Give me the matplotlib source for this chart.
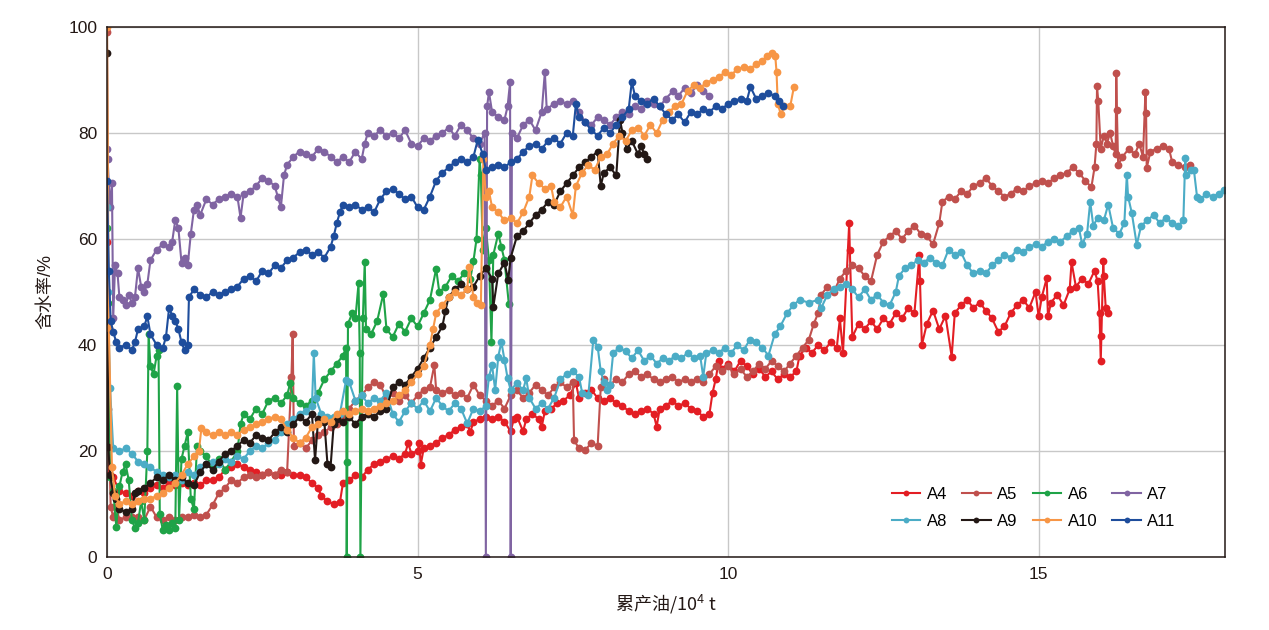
import matplotlib
matplotlib.use("Agg")
import matplotlib.pyplot as plt

plt.rcParams['font.family'] = ['Liberation Sans', 'Noto Sans CJK SC', 'DejaVu Sans']
plt.rcParams['mathtext.fontset'] = 'custom'
plt.rcParams['mathtext.rm'] = 'Noto Sans CJK SC'
plt.rcParams['mathtext.default'] = 'rm'

# 累产油 (10^4 t), 含水率 (%)
a4 = [(0.0, 59.5), (0.03, 15.5), (0.1, 15.0), (0.2, 12.5), (0.3, 12.0), (0.4, 11.5), (0.5, 12.5), (0.6, 12.0), (0.7, 13.0), (0.8, 13.5), (0.9, 13.0), (1.0, 14.0), (1.1, 13.5), (1.2, 14.0), (1.3, 13.5), (1.4, 14.0), (1.5, 13.5), (1.6, 14.5), (1.7, 14.5), (1.8, 15.0), (1.9, 16.5), (2.0, 17.0), (2.1, 17.5), (2.2, 17.0), (2.3, 16.5), (2.4, 16.0), (2.5, 15.5), (2.6, 16.0), (2.7, 15.5), (2.8, 15.5), (2.9, 16.0), (3.0, 15.5), (3.1, 15.5), (3.2, 15.0), (3.3, 14.0), (3.4, 13.0), (3.45, 11.5), (3.55, 10.5), (3.65, 10.0), (3.75, 10.3), (3.8, 14.0), (3.9, 14.5), (4.0, 15.5), (4.1, 15.0), (4.2, 16.5), (4.3, 17.5), (4.4, 18.0), (4.5, 18.5), (4.6, 19.0), (4.7, 18.5), (4.8, 19.5), (4.85, 21.5), (4.9, 19.5), (5.0, 20.0), (5.03, 21.5), (5.05, 17.3), (5.1, 20.5), (5.2, 21.0), (5.3, 21.5), (5.4, 22.5), (5.5, 23.0), (5.6, 24.0), (5.7, 24.5), (5.8, 25.0), (5.85, 23.6), (5.9, 25.5), (6.0, 26.0), (6.1, 26.5), (6.2, 26.0), (6.3, 26.5), (6.4, 25.5), (6.5, 23.7), (6.55, 26.0), (6.6, 26.5), (6.7, 23.7), (6.75, 26.0), (6.85, 27.0), (6.95, 26.0), (7.0, 24.6), (7.05, 27.5), (7.15, 28.0), (7.25, 29.0), (7.35, 29.5), (7.45, 30.5), (7.55, 32.8), (7.6, 30.0), (7.7, 31.0), (7.8, 31.5), (7.9, 30.0), (8.0, 29.5), (8.1, 30.0), (8.2, 29.0), (8.3, 28.5), (8.4, 27.5), (8.5, 27.0), (8.6, 27.5), (8.7, 28.0), (8.8, 27.0), (8.85, 24.6), (8.9, 28.0), (9.0, 28.5), (9.1, 29.5), (9.2, 28.5), (9.3, 29.0), (9.4, 28.0), (9.5, 27.5), (9.6, 26.5), (9.7, 27.0), (9.75, 31.0), (9.8, 33.5), (9.85, 37.0), (9.9, 35.5), (10.0, 36.5), (10.1, 35.0), (10.2, 37.0), (10.3, 36.0), (10.4, 34.5), (10.5, 35.5), (10.6, 34.0), (10.7, 35.0), (10.8, 33.5), (10.9, 34.5), (11.0, 34.0), (11.1, 35.0), (11.15, 38.0), (11.25, 39.5), (11.35, 38.5), (11.45, 40.0), (11.55, 39.0), (11.65, 40.5), (11.75, 39.5), (11.8, 45.0), (11.85, 38.5), (11.95, 63.0), (11.96, 58.0), (12.0, 41.5), (12.1, 44.0), (12.2, 43.0), (12.3, 44.5), (12.4, 43.0), (12.5, 45.0), (12.6, 44.0), (12.7, 46.0), (12.8, 45.0), (12.9, 47.0), (13.0, 46.0), (13.08, 57.0), (13.09, 52.0), (13.12, 40.0), (13.2, 44.0), (13.3, 46.5), (13.4, 43.0), (13.5, 45.5), (13.6, 37.8), (13.65, 46.0), (13.75, 47.5), (13.85, 48.5), (13.95, 47.0), (14.05, 48.0), (14.15, 46.5), (14.25, 45.0), (14.35, 42.5), (14.45, 43.5), (14.55, 46.0), (14.65, 47.5), (14.75, 48.5), (14.85, 47.0), (14.95, 50.0), (15.0, 45.4), (15.05, 49.0), (15.13, 52.6), (15.15, 45.4), (15.2, 48.0), (15.3, 49.5), (15.4, 47.5), (15.5, 50.5), (15.53, 55.6), (15.6, 51.0), (15.7, 52.5), (15.8, 51.5), (15.9, 54.0), (15.95, 52.0), (15.98, 46.0), (16.0, 36.9), (16.01, 41.6), (16.04, 55.8), (16.05, 53.0), (16.08, 47.0), (16.12, 46.0)]

a5 = [(0.0, 99.0), (0.02, 28.0), (0.06, 9.5), (0.1, 7.5), (0.15, 9.5), (0.2, 7.0), (0.3, 7.5), (0.4, 7.5), (0.5, 7.5), (0.6, 7.0), (0.7, 9.5), (0.8, 7.5), (0.9, 7.0), (1.0, 7.5), (1.1, 7.0), (1.2, 7.5), (1.3, 7.5), (1.4, 8.0), (1.5, 7.5), (1.6, 8.0), (1.7, 9.8), (1.8, 12.0), (1.9, 13.0), (2.0, 14.5), (2.1, 14.0), (2.2, 15.0), (2.3, 15.5), (2.4, 15.0), (2.5, 15.5), (2.6, 16.0), (2.7, 15.5), (2.8, 16.5), (2.9, 16.0), (2.97, 34.0), (2.99, 42.0), (3.01, 21.0), (3.1, 21.5), (3.2, 20.5), (3.3, 22.0), (3.4, 23.0), (3.5, 23.5), (3.6, 24.5), (3.7, 25.0), (3.8, 26.5), (3.9, 28.0), (4.0, 29.5), (4.1, 30.5), (4.2, 32.0), (4.3, 33.0), (4.4, 32.5), (4.5, 30.0), (4.6, 31.0), (4.7, 29.5), (4.8, 30.5), (4.9, 29.0), (5.0, 30.5), (5.1, 31.5), (5.2, 32.0), (5.27, 36.2), (5.3, 31.5), (5.4, 31.0), (5.5, 31.5), (5.6, 30.5), (5.7, 31.0), (5.8, 30.0), (5.9, 32.5), (6.0, 30.5), (6.1, 29.5), (6.2, 28.5), (6.3, 29.5), (6.4, 28.0), (6.5, 30.5), (6.6, 31.5), (6.7, 30.0), (6.8, 31.0), (6.9, 32.5), (7.0, 31.5), (7.1, 30.5), (7.2, 32.0), (7.3, 33.0), (7.4, 32.0), (7.5, 33.0), (7.52, 22.0), (7.6, 20.5), (7.7, 20.2), (7.8, 21.5), (7.9, 21.0), (7.95, 32.0), (8.0, 33.5), (8.1, 32.5), (8.2, 33.5), (8.3, 33.0), (8.4, 34.5), (8.5, 35.0), (8.6, 34.0), (8.7, 34.5), (8.8, 33.5), (8.9, 33.0), (9.0, 33.5), (9.1, 34.0), (9.2, 33.0), (9.3, 33.5), (9.4, 33.0), (9.5, 33.5), (9.6, 33.0), (9.7, 34.5), (9.8, 36.0), (9.9, 35.0), (10.0, 36.0), (10.1, 34.5), (10.2, 35.5), (10.3, 34.0), (10.4, 35.0), (10.5, 36.5), (10.6, 35.5), (10.7, 37.0), (10.8, 36.0), (10.9, 35.0), (11.0, 36.5), (11.1, 38.0), (11.2, 39.5), (11.3, 41.0), (11.38, 44.0), (11.45, 46.0), (11.5, 49.5), (11.6, 51.0), (11.7, 50.0), (11.8, 52.5), (11.9, 54.0), (12.0, 55.0), (12.1, 54.5), (12.2, 53.0), (12.3, 52.0), (12.4, 57.0), (12.5, 59.5), (12.6, 60.5), (12.7, 61.5), (12.8, 60.0), (12.9, 61.5), (13.0, 62.5), (13.1, 61.0), (13.2, 60.5), (13.3, 59.0), (13.4, 63.0), (13.45, 67.0), (13.55, 68.0), (13.65, 67.5), (13.75, 69.0), (13.85, 68.5), (13.95, 70.0), (14.05, 70.5), (14.15, 71.5), (14.25, 70.0), (14.35, 69.0), (14.45, 68.0), (14.55, 68.5), (14.65, 69.5), (14.75, 69.0), (14.85, 70.0), (14.95, 70.5), (15.05, 71.0), (15.15, 70.5), (15.25, 71.5), (15.35, 72.0), (15.45, 72.5), (15.55, 73.5), (15.65, 72.5), (15.75, 71.0), (15.85, 69.8), (15.9, 73.5), (15.93, 78.0), (15.94, 88.8), (15.96, 86.0), (16.0, 77.0), (16.05, 79.5), (16.1, 78.0), (16.15, 80.0), (16.2, 77.5), (16.24, 76.0), (16.25, 91.3), (16.26, 84.4), (16.28, 74.0), (16.35, 75.5), (16.45, 77.0), (16.55, 76.0), (16.62, 78.0), (16.68, 75.5), (16.72, 87.8), (16.73, 83.7), (16.74, 73.4), (16.8, 76.5), (16.9, 77.0), (17.0, 77.5), (17.1, 77.0), (17.15, 74.5), (17.25, 74.0), (17.35, 73.5), (17.44, 74.0)]

a6 = [(0.0, 62.0), (0.01, 48.0), (0.05, 15.0), (0.1, 12.5), (0.15, 5.7), (0.2, 13.3), (0.25, 16.0), (0.3, 17.5), (0.35, 14.5), (0.4, 7.0), (0.45, 5.5), (0.5, 6.5), (0.55, 10.5), (0.6, 7.0), (0.65, 20.0), (0.67, 42.0), (0.7, 36.0), (0.75, 34.5), (0.8, 38.0), (0.83, 39.0), (0.85, 8.2), (0.9, 5.0), (0.95, 6.0), (1.0, 5.0), (1.05, 6.5), (1.1, 5.5), (1.13, 32.2), (1.16, 7.0), (1.2, 18.5), (1.25, 21.0), (1.3, 23.5), (1.35, 11.0), (1.4, 9.0), (1.45, 21.0), (1.5, 20.0), (1.6, 19.0), (1.7, 17.0), (1.8, 18.5), (1.9, 16.5), (2.0, 18.0), (2.1, 20.0), (2.15, 25.0), (2.2, 27.0), (2.3, 26.0), (2.4, 28.0), (2.5, 27.0), (2.6, 29.5), (2.7, 30.0), (2.8, 29.0), (2.9, 30.5), (2.95, 32.8), (3.0, 30.0), (3.1, 29.0), (3.2, 28.5), (3.3, 29.5), (3.4, 31.0), (3.5, 33.5), (3.6, 35.0), (3.7, 36.5), (3.8, 38.0), (3.85, 39.5), (3.86, 0.0), (3.87, 18.0), (3.88, 44.0), (3.95, 46.0), (4.0, 45.0), (4.05, 51.6), (4.07, 38.4), (4.08, 0.0), (4.12, 45.0), (4.15, 55.7), (4.17, 43.0), (4.25, 42.0), (4.35, 44.5), (4.45, 49.7), (4.5, 43.0), (4.6, 41.5), (4.7, 44.0), (4.8, 42.5), (4.9, 45.0), (5.0, 43.5), (5.1, 46.0), (5.2, 48.5), (5.3, 54.4), (5.35, 50.0), (5.45, 51.0), (5.55, 53.0), (5.65, 52.0), (5.75, 53.5), (5.85, 52.5), (5.9, 55.8), (5.95, 60.0), (6.0, 75.0), (6.02, 72.0), (6.05, 58.0), (6.1, 62.0), (6.15, 56.0), (6.19, 40.6), (6.22, 57.0), (6.3, 61.0), (6.35, 58.5), (6.4, 56.0), (6.47, 47.7)]

a7 = [(0.0, 77.0), (0.01, 75.0), (0.05, 66.0), (0.08, 70.5), (0.1, 45.0), (0.13, 55.0), (0.17, 53.5), (0.2, 49.0), (0.25, 48.5), (0.3, 47.5), (0.35, 49.5), (0.4, 48.0), (0.45, 49.0), (0.5, 54.5), (0.55, 51.0), (0.6, 50.0), (0.65, 51.5), (0.7, 56.0), (0.8, 58.0), (0.9, 59.0), (1.0, 58.5), (1.05, 59.5), (1.1, 63.6), (1.15, 62.0), (1.2, 55.5), (1.25, 56.5), (1.3, 55.0), (1.35, 61.0), (1.4, 65.5), (1.45, 66.5), (1.5, 64.5), (1.6, 67.5), (1.7, 66.5), (1.8, 67.5), (1.9, 68.0), (2.0, 68.5), (2.1, 68.0), (2.15, 64.0), (2.2, 68.5), (2.3, 69.0), (2.4, 70.0), (2.5, 71.5), (2.6, 71.0), (2.7, 70.0), (2.75, 68.0), (2.8, 66.0), (2.85, 72.0), (2.9, 74.0), (3.0, 75.5), (3.1, 76.5), (3.2, 76.0), (3.3, 75.5), (3.4, 77.0), (3.5, 76.5), (3.6, 75.5), (3.7, 74.5), (3.8, 75.5), (3.9, 74.5), (4.0, 76.5), (4.1, 75.0), (4.15, 78.0), (4.2, 80.0), (4.3, 79.5), (4.4, 80.5), (4.5, 79.5), (4.6, 80.0), (4.7, 79.0), (4.8, 80.5), (4.9, 78.0), (5.0, 77.5), (5.1, 79.0), (5.2, 78.5), (5.3, 79.5), (5.4, 80.0), (5.5, 81.0), (5.6, 79.5), (5.7, 81.5), (5.8, 80.5), (5.9, 79.0), (6.0, 78.0), (6.08, 80.0), (6.1, 0.0), (6.12, 85.0), (6.15, 87.7), (6.2, 84.0), (6.3, 83.0), (6.4, 82.5), (6.45, 85.0), (6.49, 89.6), (6.5, 0.0), (6.52, 80.0), (6.6, 79.0), (6.7, 81.5), (6.8, 82.5), (6.9, 80.5), (7.0, 84.0), (7.05, 91.5), (7.08, 84.5), (7.2, 85.5), (7.3, 86.0), (7.4, 85.5), (7.5, 86.0), (7.6, 84.0), (7.7, 82.0), (7.8, 81.5), (7.9, 83.0), (8.0, 82.5), (8.1, 81.5), (8.2, 83.0), (8.3, 84.0), (8.4, 83.5), (8.5, 85.0), (8.6, 84.5), (8.7, 86.0), (8.8, 85.5), (8.9, 85.0), (9.0, 86.5), (9.12, 88.0), (9.2, 87.0), (9.3, 88.5), (9.4, 87.5), (9.5, 89.0), (9.6, 88.0), (9.7, 87.0)]

a8 = [(0.0, 66.0), (0.01, 50.0), (0.05, 31.8), (0.1, 20.5), (0.2, 20.0), (0.3, 20.5), (0.4, 19.5), (0.5, 18.0), (0.6, 17.5), (0.7, 17.0), (0.8, 16.0), (0.9, 15.5), (1.0, 15.0), (1.1, 15.5), (1.2, 14.5), (1.3, 16.0), (1.4, 15.5), (1.5, 17.0), (1.6, 17.5), (1.7, 18.0), (1.8, 17.5), (1.9, 18.5), (2.0, 18.0), (2.1, 19.0), (2.2, 18.5), (2.3, 20.0), (2.4, 21.0), (2.5, 20.5), (2.6, 21.5), (2.7, 22.0), (2.8, 23.5), (2.9, 25.0), (3.0, 26.0), (3.1, 27.0), (3.2, 27.5), (3.3, 28.5), (3.33, 38.4), (3.36, 30.0), (3.45, 27.0), (3.55, 26.5), (3.65, 26.5), (3.75, 27.0), (3.85, 33.4), (3.9, 33.0), (4.0, 29.5), (4.1, 30.5), (4.2, 29.0), (4.3, 30.0), (4.4, 29.5), (4.5, 31.0), (4.6, 27.0), (4.7, 25.5), (4.8, 27.5), (4.9, 29.0), (5.0, 28.0), (5.1, 29.5), (5.2, 27.5), (5.3, 30.0), (5.4, 28.5), (5.5, 27.5), (5.6, 29.0), (5.7, 28.0), (5.8, 25.2), (5.9, 28.0), (6.0, 27.5), (6.1, 28.5), (6.15, 34.0), (6.2, 36.2), (6.25, 31.5), (6.3, 37.8), (6.35, 40.6), (6.4, 37.2), (6.45, 33.7), (6.5, 31.5), (6.6, 32.8), (6.7, 31.5), (6.75, 33.7), (6.8, 30.0), (6.9, 28.0), (7.0, 29.0), (7.1, 28.0), (7.2, 30.0), (7.3, 33.5), (7.4, 34.5), (7.5, 35.0), (7.6, 34.0), (7.65, 31.0), (7.75, 30.5), (7.83, 41.0), (7.9, 39.7), (7.95, 35.0), (8.0, 33.0), (8.05, 31.5), (8.1, 32.5), (8.15, 38.5), (8.25, 39.5), (8.35, 38.8), (8.45, 37.5), (8.55, 39.0), (8.65, 37.0), (8.75, 38.0), (8.85, 36.5), (8.95, 37.5), (9.05, 37.0), (9.15, 38.0), (9.25, 37.5), (9.35, 38.5), (9.45, 37.5), (9.55, 38.0), (9.6, 34.0), (9.65, 38.5), (9.75, 39.0), (9.85, 38.5), (9.95, 39.5), (10.05, 38.5), (10.15, 40.0), (10.25, 39.0), (10.35, 41.0), (10.45, 40.5), (10.55, 39.5), (10.65, 38.0), (10.75, 42.0), (10.84, 43.5), (10.95, 46.0), (11.05, 47.5), (11.15, 48.5), (11.3, 48.0), (11.45, 48.5), (11.5, 47.0), (11.6, 49.5), (11.7, 50.5), (11.8, 51.0), (11.9, 51.5), (12.0, 50.5), (12.1, 49.0), (12.2, 50.5), (12.3, 48.5), (12.4, 49.5), (12.5, 48.0), (12.6, 47.5), (12.7, 50.0), (12.75, 53.0), (12.85, 54.5), (12.95, 55.0), (13.05, 56.0), (13.15, 55.5), (13.25, 56.5), (13.35, 55.5), (13.45, 55.0), (13.55, 58.0), (13.65, 57.0), (13.75, 57.5), (13.85, 55.0), (13.95, 53.5), (14.05, 54.0), (14.15, 53.5), (14.25, 55.0), (14.35, 56.0), (14.45, 57.0), (14.55, 56.5), (14.65, 58.0), (14.75, 57.5), (14.85, 58.5), (14.95, 59.0), (15.05, 58.5), (15.15, 59.5), (15.25, 60.0), (15.35, 59.5), (15.45, 60.5), (15.55, 61.5), (15.65, 62.0), (15.7, 59.0), (15.78, 61.0), (15.83, 67.0), (15.88, 62.5), (15.95, 64.0), (16.05, 63.5), (16.12, 66.5), (16.2, 62.0), (16.3, 61.0), (16.38, 63.0), (16.42, 72.1), (16.44, 68.0), (16.5, 64.9), (16.58, 58.9), (16.65, 62.5), (16.75, 63.5), (16.85, 64.5), (16.95, 63.0), (17.05, 64.0), (17.15, 63.0), (17.25, 62.5), (17.33, 63.5), (17.36, 75.2), (17.38, 72.0), (17.45, 73.0), (17.5, 73.0), (17.55, 68.0), (17.6, 67.5), (17.7, 68.5), (17.8, 68.0), (17.9, 68.5), (17.98, 69.3)]

a9 = [(0.0, 95.0), (0.02, 20.8), (0.05, 15.5), (0.1, 12.0), (0.15, 11.0), (0.2, 9.0), (0.3, 8.5), (0.4, 9.0), (0.45, 12.0), (0.5, 12.5), (0.6, 13.0), (0.7, 14.0), (0.8, 15.0), (0.9, 14.5), (1.0, 15.5), (1.1, 14.5), (1.2, 15.0), (1.3, 14.0), (1.4, 13.5), (1.5, 16.0), (1.6, 17.5), (1.7, 16.5), (1.8, 18.0), (1.9, 19.5), (2.0, 20.0), (2.1, 21.0), (2.2, 22.0), (2.3, 21.5), (2.4, 23.0), (2.5, 22.5), (2.6, 22.0), (2.7, 23.5), (2.8, 24.5), (2.9, 23.5), (3.0, 25.0), (3.1, 26.5), (3.2, 25.5), (3.3, 27.0), (3.35, 18.3), (3.4, 26.0), (3.5, 25.5), (3.55, 17.5), (3.6, 17.0), (3.65, 25.0), (3.7, 26.0), (3.8, 25.5), (3.9, 26.5), (4.0, 25.0), (4.1, 26.5), (4.2, 27.0), (4.3, 26.5), (4.4, 27.5), (4.5, 28.0), (4.6, 32.0), (4.7, 33.0), (4.8, 32.5), (4.9, 34.0), (5.0, 35.5), (5.1, 37.5), (5.2, 39.5), (5.3, 41.5), (5.4, 43.5), (5.45, 46.5), (5.5, 49.0), (5.6, 50.5), (5.7, 51.5), (5.8, 50.5), (5.9, 51.0), (6.0, 53.0), (6.1, 54.5), (6.2, 52.5), (6.22, 47.2), (6.3, 53.5), (6.4, 55.5), (6.46, 52.3), (6.5, 56.5), (6.6, 60.5), (6.7, 61.5), (6.8, 63.0), (6.9, 64.5), (7.0, 65.5), (7.1, 67.0), (7.2, 66.5), (7.3, 69.0), (7.4, 70.5), (7.5, 72.0), (7.6, 73.5), (7.7, 74.5), (7.8, 75.5), (7.9, 76.5), (7.95, 70.0), (8.0, 72.5), (8.1, 73.5), (8.2, 72.0), (8.26, 82.5), (8.3, 80.0), (8.37, 77.0), (8.45, 78.5), (8.55, 76.0), (8.6, 77.5), (8.65, 76.0), (8.69, 75.0)]

a10 = [(0.0, 100.0), (0.03, 43.2), (0.08, 17.0), (0.13, 11.5), (0.2, 10.0), (0.3, 10.5), (0.4, 10.0), (0.5, 10.5), (0.6, 11.0), (0.7, 11.0), (0.8, 11.5), (0.9, 12.0), (1.0, 13.0), (1.1, 14.0), (1.2, 15.5), (1.3, 17.5), (1.4, 19.0), (1.48, 20.0), (1.52, 24.3), (1.6, 23.5), (1.7, 23.0), (1.8, 23.5), (1.9, 23.0), (2.0, 23.5), (2.1, 23.0), (2.2, 24.0), (2.3, 24.5), (2.4, 25.0), (2.5, 25.5), (2.6, 26.0), (2.7, 26.5), (2.8, 26.0), (2.9, 24.0), (3.0, 22.5), (3.1, 21.5), (3.2, 22.5), (3.3, 24.5), (3.4, 25.0), (3.5, 26.0), (3.6, 25.5), (3.7, 27.0), (3.8, 27.5), (3.9, 27.0), (4.0, 27.5), (4.1, 28.0), (4.2, 27.5), (4.3, 28.0), (4.4, 28.5), (4.5, 29.0), (4.6, 29.5), (4.7, 30.5), (4.8, 31.5), (4.9, 33.0), (5.0, 34.5), (5.1, 36.0), (5.2, 40.0), (5.25, 43.0), (5.3, 46.0), (5.4, 47.5), (5.5, 49.0), (5.6, 50.0), (5.7, 49.5), (5.8, 50.5), (5.83, 54.7), (5.9, 49.0), (5.95, 48.0), (6.02, 47.5), (6.06, 75.0), (6.1, 68.0), (6.15, 69.0), (6.2, 66.0), (6.3, 65.0), (6.4, 63.5), (6.5, 64.0), (6.6, 63.0), (6.7, 65.0), (6.8, 68.0), (6.85, 72.0), (6.95, 70.5), (7.05, 69.5), (7.15, 70.0), (7.2, 67.0), (7.3, 66.0), (7.4, 68.0), (7.5, 64.5), (7.55, 70.0), (7.65, 72.5), (7.75, 74.0), (7.85, 73.0), (7.95, 75.5), (8.05, 76.0), (8.15, 78.0), (8.25, 79.5), (8.35, 78.5), (8.45, 80.5), (8.55, 81.0), (8.65, 79.5), (8.75, 81.5), (8.85, 80.0), (8.95, 82.5), (9.05, 84.0), (9.15, 85.0), (9.25, 85.5), (9.35, 88.0), (9.45, 89.0), (9.55, 88.5), (9.65, 89.5), (9.75, 90.0), (9.85, 90.5), (9.95, 91.5), (10.05, 91.0), (10.15, 92.0), (10.25, 92.5), (10.35, 92.0), (10.45, 93.0), (10.55, 93.5), (10.62, 94.5), (10.7, 95.0), (10.76, 94.5), (10.78, 91.5), (10.8, 85.5), (10.85, 83.5), (10.9, 85.0), (11.0, 85.0), (11.06, 88.7)]

a11 = [(0.0, 71.0), (0.03, 54.0), (0.06, 44.5), (0.1, 42.5), (0.15, 40.5), (0.2, 39.5), (0.3, 40.0), (0.4, 39.0), (0.45, 40.5), (0.5, 43.0), (0.6, 43.5), (0.65, 45.4), (0.7, 42.0), (0.8, 40.0), (0.9, 39.5), (0.95, 41.5), (1.0, 47.0), (1.05, 45.5), (1.1, 44.5), (1.15, 43.0), (1.2, 40.5), (1.25, 39.0), (1.3, 40.0), (1.32, 49.0), (1.4, 50.5), (1.5, 49.5), (1.6, 49.0), (1.7, 50.0), (1.8, 49.5), (1.9, 50.0), (2.0, 50.5), (2.1, 51.0), (2.2, 52.5), (2.3, 53.0), (2.4, 52.0), (2.5, 54.0), (2.6, 53.5), (2.7, 55.0), (2.8, 54.5), (2.9, 56.0), (3.0, 56.5), (3.1, 57.5), (3.2, 58.0), (3.3, 57.0), (3.4, 57.5), (3.5, 56.5), (3.6, 58.5), (3.65, 60.5), (3.7, 63.0), (3.75, 65.0), (3.8, 66.5), (3.9, 66.0), (4.0, 66.5), (4.1, 65.5), (4.2, 66.0), (4.3, 65.0), (4.4, 67.5), (4.5, 69.0), (4.6, 69.5), (4.7, 68.5), (4.8, 67.5), (4.9, 68.0), (5.0, 66.0), (5.1, 65.5), (5.2, 68.0), (5.3, 71.0), (5.4, 72.5), (5.5, 73.5), (5.6, 74.5), (5.7, 75.0), (5.8, 74.5), (5.9, 75.5), (5.97, 78.7), (6.05, 76.0), (6.1, 73.0), (6.2, 73.5), (6.3, 74.0), (6.4, 73.5), (6.5, 74.5), (6.6, 75.0), (6.7, 76.5), (6.8, 77.5), (6.9, 78.0), (7.0, 77.0), (7.1, 78.5), (7.2, 79.0), (7.3, 78.0), (7.4, 80.0), (7.5, 79.5), (7.55, 85.5), (7.6, 83.0), (7.7, 82.0), (7.8, 80.5), (7.9, 79.5), (8.0, 81.0), (8.1, 80.0), (8.2, 81.5), (8.3, 83.0), (8.4, 84.5), (8.45, 89.7), (8.5, 87.0), (8.6, 86.0), (8.7, 85.5), (8.8, 86.5), (8.9, 85.0), (9.0, 83.5), (9.1, 82.5), (9.2, 83.5), (9.3, 82.0), (9.4, 84.0), (9.5, 83.5), (9.6, 84.5), (9.7, 84.0), (9.8, 85.0), (9.9, 84.5), (10.0, 85.5), (10.1, 86.0), (10.2, 86.5), (10.3, 86.0), (10.36, 88.7), (10.45, 86.5), (10.55, 87.0), (10.65, 87.5), (10.75, 87.0), (10.82, 86.0), (10.88, 85.0)]

names = ['A4', 'A5', 'A6', 'A7', 'A8', 'A9', 'A10', 'A11']
series = [a4, a5, a6, a7, a8, a9, a10, a11]
colors = ['#e31e24', '#c0504d', '#1fa347', '#8064a2', '#4bacc6', '#231815', '#f79646', '#1e4d9c']

fig = plt.figure(figsize=(12.69, 6.30), dpi=100)
ax = fig.add_axes([0.0843, 0.1159, 0.8810, 0.8413])

handles = {}
for name, data, c in zip(names, series, colors):
    xs = [p[0] for p in data]
    ys = [p[1] for p in data]
    ln, = ax.plot(xs, ys, color=c, lw=1.5, marker='o', ms=5.6, mew=0, label=name)
    handles[name] = ln

ax.set_xlim(0, 18)
ax.set_ylim(0, 100)
ax.set_xticks([0, 5, 10, 15])
ax.set_yticks([0, 20, 40, 60, 80, 100])
ax.grid(True, color='#c8c8c8', lw=1)
ax.set_axisbelow(True)
ax.tick_params(length=0, labelsize=12.5, pad=7, colors='#231815')
for s in ax.spines.values():
    s.set_color('#231815')
    s.set_linewidth(1.1)

# x label: Chinese plus a real superscript, both from the CJK font
ax.set_xlabel('累产油/10$^{4}$ t', fontsize=13, labelpad=8, color='#231815',
              family='Noto Sans CJK SC')
ax.set_ylabel('含水率/%', fontsize=13, labelpad=10, color='#231815')

# legend fills row by row in the picture
order = ['A4', 'A8', 'A5', 'A9', 'A6', 'A10', 'A7', 'A11']
leg = ax.legend([handles[n] for n in order], order, ncol=4, loc='lower right',
                bbox_to_anchor=(0.962, 0.04), frameon=False, fontsize=12,
                handlelength=1.7, handletextpad=0.4, columnspacing=0.9,
                labelspacing=0.75, markerscale=0.75, borderaxespad=0)

fig.savefig('out.png', dpi=100)
